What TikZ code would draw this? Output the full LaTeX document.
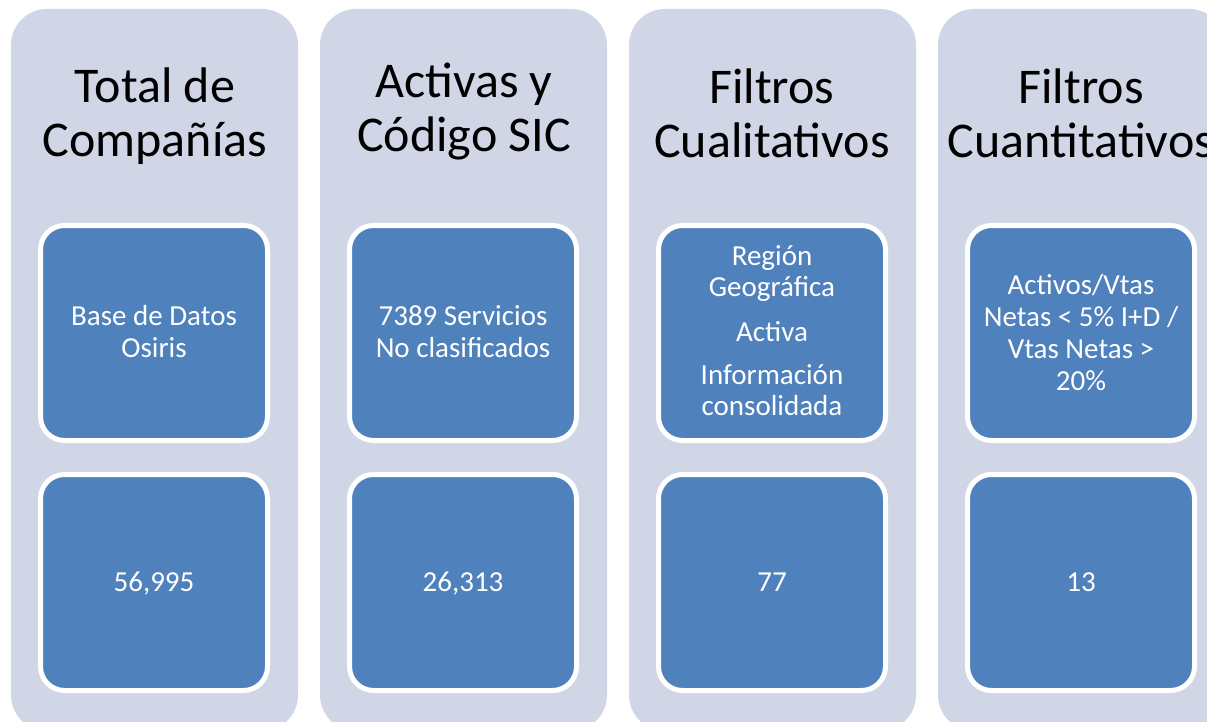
\documentclass[tikz,border=0pt]{standalone}
\usepackage{fontspec}
\setmainfont{Carlito}
\definecolor{panel}{RGB}{208,214,230}
\definecolor{tile}{RGB}{79,129,189}
\begin{document}
\begin{tikzpicture}[x=1pt,y=-1pt,
  panelbox/.style={fill=panel, draw=none, rounded corners=36pt, minimum width=287pt, minimum height=722pt, inner sep=0pt},
  tilebox/.style={fill=tile, draw=white, line width=5pt, rounded corners=24pt, minimum width=227pt, inner sep=0pt},
  titletext/.style={font=\fontsize{50}{54}\selectfont, align=center, anchor=base, inner sep=0pt, text=black},
  tiletext/.style={font=\fontsize{29}{32}\selectfont, align=center, anchor=base, inner sep=0pt, text=white}]
\useasboundingbox (0,0) rectangle (1207,722);
\fill[white] (0,0) rectangle (1207,722);
% panels
\node[panelbox] (p1) at (154.5,370) {};
\node[panelbox] (p2) at (463.5,370) {};
\node[panelbox] (p3) at (772.5,370) {};
\node[panelbox] (p4) at (1081.5,370) {};
% tiles
\node[tilebox, minimum height=215pt] (a1) at (154,333) {};
\node[tilebox, minimum height=216pt] (b1) at (154,582.5) {};
\node[tilebox, minimum height=215pt] (a2) at (463,333) {};
\node[tilebox, minimum height=216pt] (b2) at (463,582.5) {};
\node[tilebox, minimum height=215pt] (a3) at (772,333) {};
\node[tilebox, minimum height=216pt] (b3) at (772,582.5) {};
\node[tilebox, minimum height=215pt] (a4) at (1081,333) {};
\node[tilebox, minimum height=216pt] (b4) at (1081,582.5) {};
% titles (base = baseline of last line)
\node[titletext] (h1) at (155,157) {Total de\\Compañías};
\node[titletext] (h2) at (464,152) {Activas y\\Código SIC};
\node[titletext] (h3) at (772,158) {Filtros\\Cualitativos};
\node[titletext] (h4) at (1081,158) {Filtros\\Cuantitativos};
% tile texts
\node[tiletext] (t1) at (154,357) {Base de Datos\\Osiris};
\node[tiletext] (t2) at (463,357) {7389 Servicios\\No clasificados};
\node[tiletext, font=\fontsize{29}{31}\selectfont] (t3) at (772,415) {Región\\Geográfica\\[14pt]Activa\\[12pt]Información\\consolidada};
\node[tiletext] (t4) at (1081,390) {Activos/Vtas\\Netas < 5\% I+D /\\Vtas Netas >\\20\%};
\node[tiletext] (n1) at (154,591) {56,995};
\node[tiletext] (n2) at (463,591) {26,313};
\node[tiletext] (n3) at (772,591) {77};
\node[tiletext] (n4) at (1081,591) {13};
\end{tikzpicture}
\end{document}
